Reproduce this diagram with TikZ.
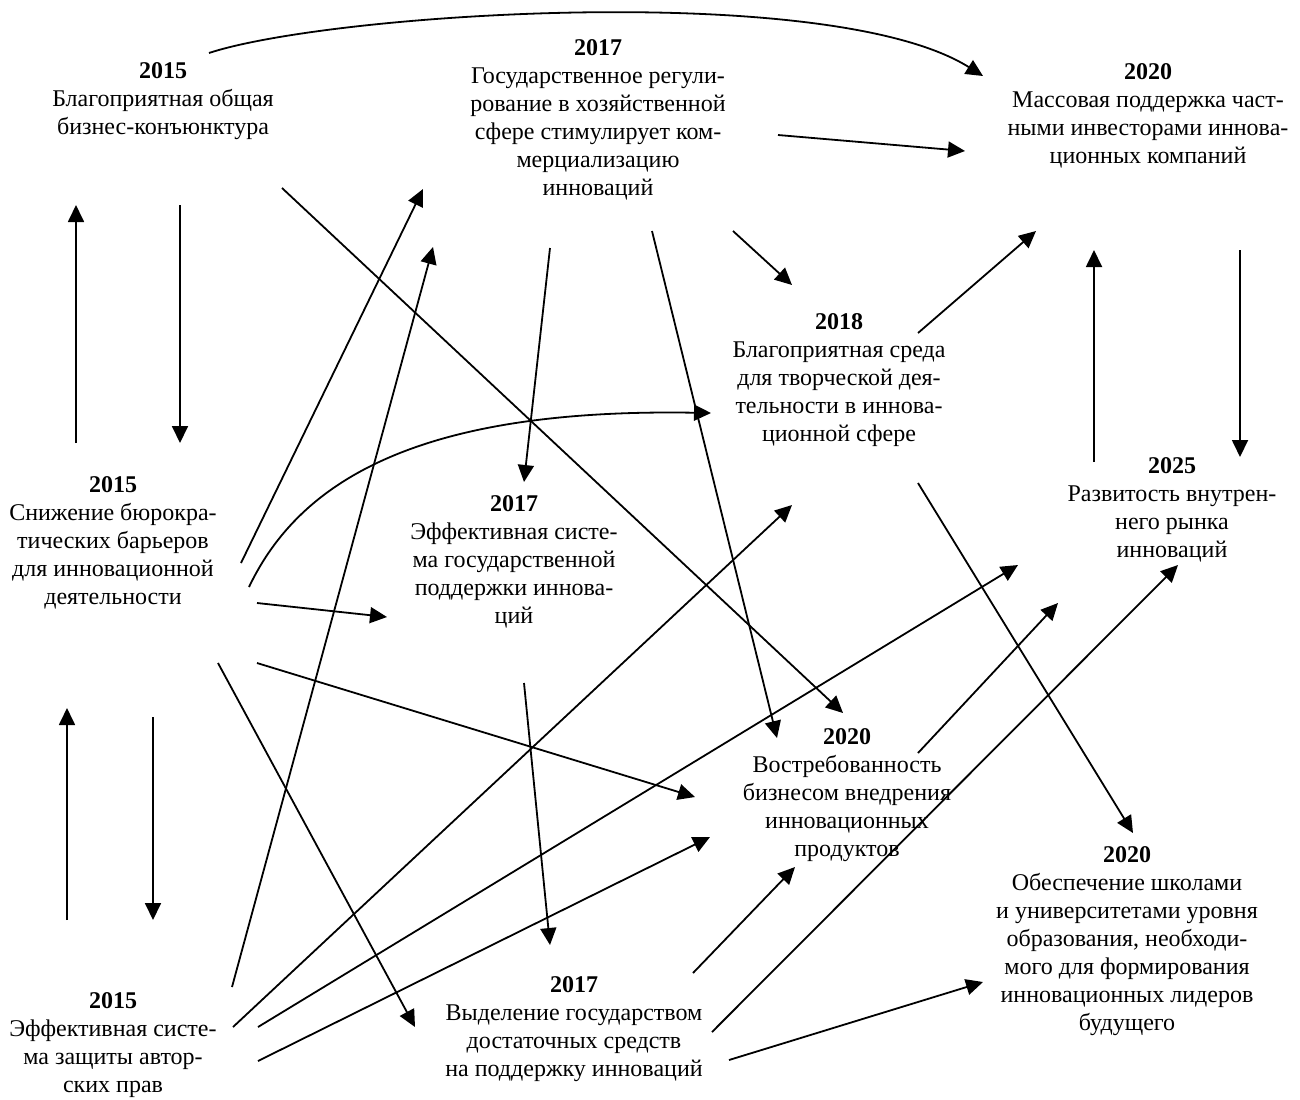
\documentclass[tikz,border=0pt]{standalone}
\usepackage{fontspec}
\setmainfont{Liberation Serif}
\usetikzlibrary{arrows.meta,calc}

\begin{document}
\begin{tikzpicture}[x=0.5pt,y=-0.5pt,
  stage/.style={align=center,font=\fontsize{12}{14}\selectfont,inner sep=0pt},
  arr/.style={line width=0.9pt,-{Triangle[length=8.5pt,width=8pt]}}]
\useasboundingbox (0,0) rectangle (1300,1099);

% stages
\node[stage] (n15a) at (163,101) {\textbf{2015}\\Благоприятная общая\\бизнес-конъюнктура};
\node[stage] (n17a) at (598,120) {\textbf{2017}\\Государственное регули-\\рование в хозяйственной\\сфере стимулирует ком-\\мерциализацию\\инноваций};
\node[stage] (n20a) at (1148,116) {\textbf{2020}\\Массовая поддержка част-\\ными инвесторами иннова-\\ционных компаний};
\node[stage] (n18) at (839,380) {\textbf{2018}\\Благоприятная среда\\для творческой дея-\\тельности в иннова-\\ционной сфере};
\node[stage] (n15b) at (113,543) {\textbf{2015}\\Снижение бюрокра-\\тических барьеров\\для инновационной\\деятельности};
\node[stage] (n17b) at (514,562) {\textbf{2017}\\Эффективная систе-\\ма государственной\\поддержки иннова-\\ций};
\node[stage] (n25) at (1172,510) {\textbf{2025}\\Развитость внутрен-\\него рынка\\инноваций};
\node[stage] (n20b) at (847,795) {\textbf{2020}\\Востребованность\\бизнесом внедрения\\инновационных\\продуктов};
\node[stage] (n20c) at (1127,941) {\textbf{2020}\\Обеспечение школами\\и университетами уровня\\образования, необходи-\\мого для формирования\\инновационных лидеров\\будущего};
\node[stage] (n15c) at (113,1045) {\textbf{2015}\\Эффективная систе-\\ма защиты автор-\\ских прав};
\node[stage] (n17c) at (574,1029) {\textbf{2017}\\Выделение государством\\достаточных средств\\на поддержку инноваций};

% curved links
\draw[arr] ([shift={(46,-48)}]n15a.center) .. controls +(121,-40) and +(-153,-96) .. ([shift={(-165,-40)}]n20a.center);
\draw[arr] ([shift={(136,44)}]n15b.center) .. controls +(51,-107) and +(-291,-5) .. ([shift={(-128,33)}]n18.center);

% straight links
\foreach \s/\sx/\sy/\t/\tx/\ty in {
  n17a/180/15/n20a/-183/35,
  n15b/-37/-100/n15a/-87/104,
  n15a/17/104/n15b/67/-100,
  n15a/119/87/n20b/-4/-82,
  n17a/-48/128/n17b/10/-80,
  n17a/54/111/n20b/-70/-57,
  n17a/135/111/n18/-47/-95,
  n18/79/-47/n20a/-112/115,
  n20a/92/134/n25/68/-53,
  n25/-78/-48/n20a/-54/134,
  n15b/128/20/n17a/-175/69,
  n15b/144/60/n17b/-127/55,
  n15b/144/120/n20b/-152/2,
  n15b/105/120/n17c/-159/-2,
  n15c/-46/-125/n15b/-46/165,
  n15b/40/174/n15c/40/-125,
  n15c/119/-58/n17a/-165/127,
  n15c/120/-18/n18/-47/125,
  n15c/145/-18/n25/-154/55,
  n15c/145/16/n20b/-137/42,
  n17b/10/121/n17c/-24/-84,
  n17c/119/-56/n20b/-52/72,
  n17c/138/3/n25/6/55,
  n20b/71/-42/n25/-114/93,
  n17c/155/31/n20c/-144/41,
  n18/79/103/n20c/6/-108}
  \draw[arr] ([shift={(\sx,\sy)}]\s.center) -- ([shift={(\tx,\ty)}]\t.center);
\end{tikzpicture}
\end{document}
